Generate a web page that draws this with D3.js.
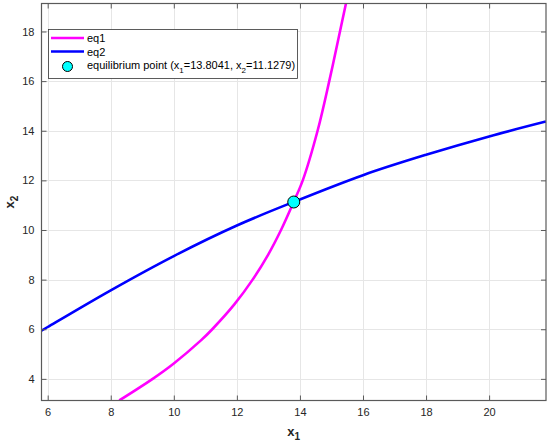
<!DOCTYPE html>
<html lang="en">
<head>
<meta charset="UTF-8">
<title>Equilibrium point</title>
<script src="https://cdn.jsdelivr.net/npm/d3@7"></script>
<style>
    body { margin: 0; background: #fff; }
    svg { display: block; font-family: "Liberation Sans", Arial, sans-serif; }
</style>
</head>
<body>
<div id="chart"></div>
<script>
    // curves (x1, x2 pairs)
    const eq1X1 = [8.27, 9.33, 9.99, 10.86, 11.22, 11.92, 12.50, 12.99, 13.40, 13.80, 14.09, 14.56, 14.93, 15.27, 15.46];
    const eq1X2 = [3.13, 4.0, 4.61, 5.55, 6.0, 7.0, 8.0, 9.0, 10.0, 11.13, 12.0, 14.0, 16.0, 18.0, 19.13];
    const eq2X1 = [5.80, 6, 8, 10, 12, 13.80, 16, 18, 20, 21.80];
    const eq2X2 = [5.94, 6.09, 7.57, 8.95, 10.18, 11.13, 12.21, 13.03, 13.77, 14.37];
    const eqPoint = [13.8041, 11.1279];
    const xTicks = [6, 8, 10, 12, 14, 16, 18, 20];
    const yTicks = [4, 6, 8, 10, 12, 14, 16, 18];
    const xDomain = [eqPoint[0] - 8, eqPoint[0] + 8];
    const yDomain = [eqPoint[1] - 8, eqPoint[1] + 8];

    const W = 550, H = 446;
    const L = 41.5, R = 546, T = 3.5, B = 400.5;

    const svg = d3.select("#chart").append("svg")
        .attr("width", W)
        .attr("height", H);

    const x = d3.scaleLinear().domain(xDomain).range([L, R]);
    const y = d3.scaleLinear().domain(yDomain).range([B, T]);

    // grid
    const grid = svg.append("g").attr("stroke", "#e6e6e6").attr("stroke-width", 1);
    grid.selectAll(".gx").data(xTicks).join("line")
        .attr("x1", d => Math.round(x(d)) + 0.5).attr("x2", d => Math.round(x(d)) + 0.5)
        .attr("y1", T).attr("y2", B);
    grid.selectAll(".gy").data(yTicks).join("line")
        .attr("y1", d => Math.round(y(d)) + 0.5).attr("y2", d => Math.round(y(d)) + 0.5)
        .attr("x1", L).attr("x2", R);

    // clip for curves
    svg.append("clipPath").attr("id", "clip")
        .append("rect").attr("x", L).attr("y", T).attr("width", R - L).attr("height", B - T);

    const line = d3.line().x(d => x(d[0])).y(d => y(d[1])).curve(d3.curveCatmullRom.alpha(0.5));
    const curves = svg.append("g").attr("clip-path", "url(#clip)");

    curves.append("path")
        .attr("d", line(d3.zip(eq1X1, eq1X2)))
        .attr("fill", "none").attr("stroke", "#ff00ff").attr("stroke-width", 2.6);
    curves.append("path")
        .attr("d", line(d3.zip(eq2X1, eq2X2)))
        .attr("fill", "none").attr("stroke", "#0000ff").attr("stroke-width", 2.6);

    // axes: MATLAB-style box with inward ticks on all sides
    const tickLen = 5;
    const axisColor = "#5a5a5a";
    const ax = svg.append("g");

    const xb = d3.axisBottom(x).tickValues(xTicks).tickSize(-tickLen).tickPadding(8);
    const xt = d3.axisTop(x).tickValues(xTicks).tickSize(-tickLen).tickFormat("");
    const yl = d3.axisLeft(y).tickValues(yTicks).tickSize(-tickLen).tickPadding(7);
    const yr = d3.axisRight(y).tickValues(yTicks).tickSize(-tickLen).tickFormat("");

    [[xb, `translate(0,${B})`], [xt, `translate(0,${T})`], [yl, `translate(${L},0)`], [yr, `translate(${R},0)`]]
        .forEach(([a, tr]) => {
            const g = ax.append("g").attr("transform", tr).call(a);
            g.selectAll(".domain").remove();
            g.selectAll("line").attr("stroke", axisColor);
            g.selectAll("text").attr("fill", "#262626").attr("font-size", "11px")
                .attr("font-family", "Liberation Sans, Arial, sans-serif");
        });

    svg.append("rect")
        .attr("x", L).attr("y", T).attr("width", R - L).attr("height", B - T)
        .attr("fill", "none").attr("stroke", axisColor).attr("stroke-width", 1.2);

    // equilibrium marker
    svg.append("circle")
        .attr("cx", x(eqPoint[0])).attr("cy", y(eqPoint[1])).attr("r", 6)
        .attr("fill", "#00ffff").attr("stroke", "#000").attr("stroke-width", 1);

    // axis labels
    const xl = svg.append("text")
        .attr("x", (L + R) / 2).attr("y", 436)
        .attr("text-anchor", "middle").attr("font-size", "13px").attr("font-weight", "bold")
        .attr("fill", "#262626");
    xl.append("tspan").text("x");
    xl.append("tspan").attr("dy", 4).attr("font-size", "10px").text("1");

    const ylab = svg.append("text")
        .attr("transform", `translate(14,${(T + B) / 2}) rotate(-90)`)
        .attr("text-anchor", "middle").attr("font-size", "13px").attr("font-weight", "bold")
        .attr("fill", "#262626");
    ylab.append("tspan").text("x");
    ylab.append("tspan").attr("dy", 4).attr("font-size", "10px").text("2");

    // legend
    const lg = svg.append("g").attr("font-size", "11px").attr("fill", "#000");
    lg.append("rect")
        .attr("x", 48.5).attr("y", 29.5).attr("width", 249).attr("height", 49)
        .attr("fill", "#fff").attr("stroke", "#333").attr("stroke-width", 0.8);

    const legendRows = [
        { y: 38, type: "line", color: "#ff00ff" },
        { y: 51.5, type: "line", color: "#0000ff" },
        { y: 66.5, type: "dot" }
    ];
    legendRows.forEach(r => {
        if (r.type === "line") {
            lg.append("line").attr("x1", 51).attr("x2", 84).attr("y1", r.y).attr("y2", r.y)
                .attr("stroke", r.color).attr("stroke-width", 2.6);
        } else {
            lg.append("circle").attr("cx", 67.5).attr("cy", r.y).attr("r", 5)
                .attr("fill", "#00ffff").attr("stroke", "#000").attr("stroke-width", 1);
        }
    });
    lg.append("text").attr("x", 87).attr("y", legendRows[0].y + 4).text("eq1");
    lg.append("text").attr("x", 87).attr("y", legendRows[1].y + 4).text("eq2");
    const et = lg.append("text").attr("x", 87).attr("y", legendRows[2].y + 2);
    et.append("tspan").text("equilibrium point (x");
    et.append("tspan").attr("dy", 4).attr("font-size", "8px").text("1");
    et.append("tspan").attr("dy", -4).text("=13.8041, x");
    et.append("tspan").attr("dy", 4).attr("font-size", "8px").text("2");
    et.append("tspan").attr("dy", -4).text("=11.1279)");
</script>
</body>
</html>
